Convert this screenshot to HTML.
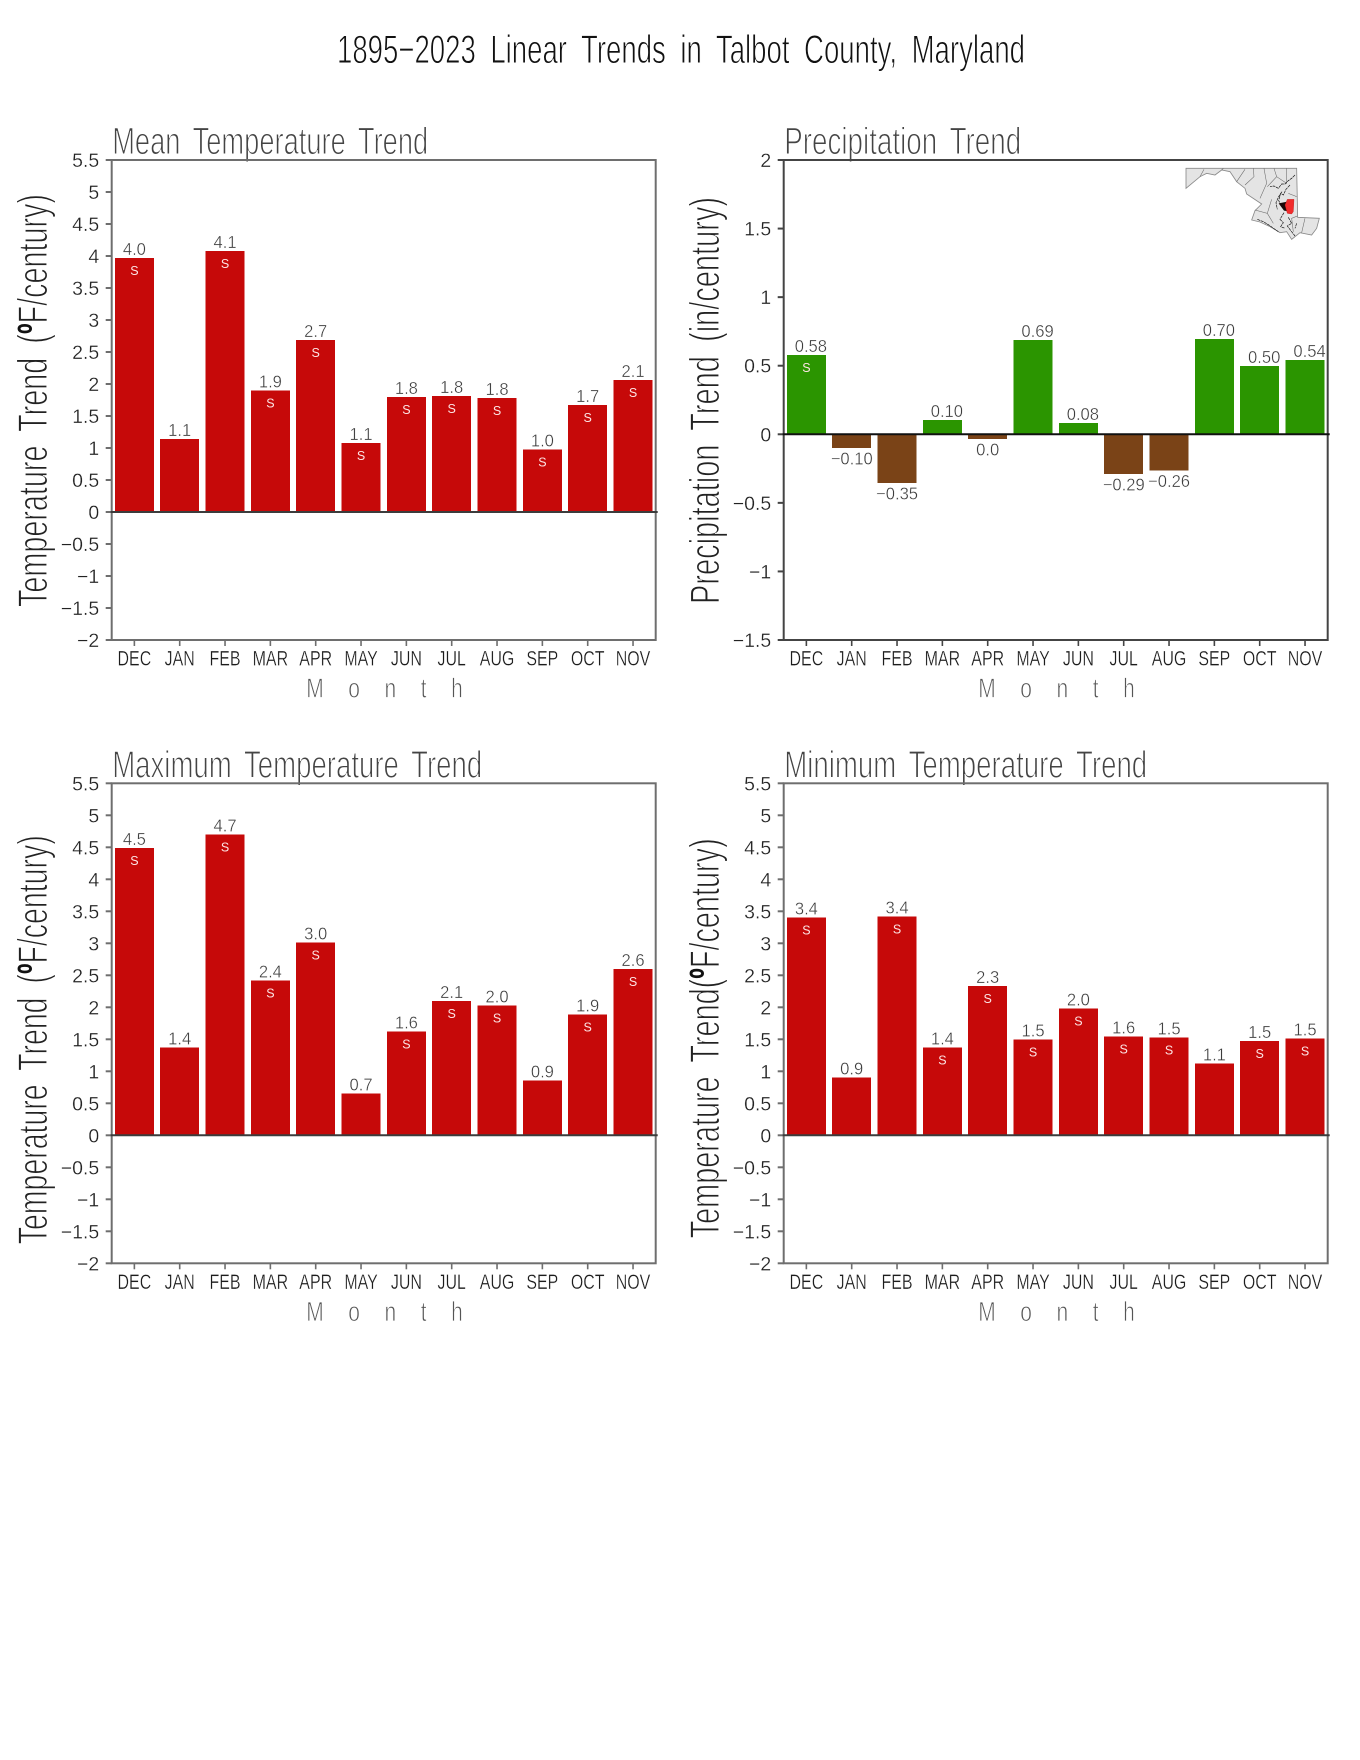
<!DOCTYPE html>
<html lang="en">
<head>
<meta charset="utf-8">
<title>1895-2023 Linear Trends in Talbot County, Maryland</title>
<style>
html,body{margin:0;padding:0;background:#fff;}
#chart{display:block;width:1360px;height:1760px;font-family:"Liberation Sans",sans-serif;}
</style>
</head>
<body>
<svg id="chart" xmlns="http://www.w3.org/2000/svg" width="1360" height="1760" viewBox="0 0 1360 1760">
  <rect x="0" y="0" width="1360" height="1760" fill="#fff"/>
  <text x="337" y="63" font-size="40" fill="#111" stroke="#fff" stroke-width="0.9" textLength="688" lengthAdjust="spacingAndGlyphs" word-spacing="10">1895−2023 Linear Trends in Talbot County, Maryland</text>
  <g id="panels"></g>
  <g transform="translate(1180,160) scale(0.3333)">
    <path d="M18,25 L350,25 L353,172 L418,175 L410,205 L395,225 L360,218 L335,238 L320,215 L300,218 L270,200 L240,186 L215,180 L225,152 L245,132 L200,102 L195,85 L170,65 L150,35 L125,30 L105,45 L80,40 L60,50 L18,85 Z" fill="#e4e4e4" stroke="#8a8a8a" stroke-width="2.5"/>
    <path d="M60,50 L72,28 M125,30 L130,25 M170,65 L195,28 M195,75 L222,50 L220,25 M240,115 L260,70 L252,25 M262,80 L290,50 L282,25 M290,50 L320,70 L320,25 M225,150 L262,160 L280,190 M262,160 L275,118 M350,110 L325,100 M352,168 L335,175 L340,215 M375,175 L365,218" fill="none" stroke="#666" stroke-width="1.6"/>
    <path d="M345,45 L335,55 L325,62 L315,72 L305,72 L295,85 L282,78 L270,80 M330,75 L318,88 L310,105 L302,100 L296,122 L304,135 M306,95 L296,110 L288,128 L292,148 M312,158 L300,178 L310,188 L302,200 L315,205 M325,172 L335,190 L322,198 L335,215 L345,228 M350,190 L345,205 M232,178 L250,185 L268,196 L295,215" fill="none" stroke="#111" stroke-width="2" stroke-dasharray="9 2"/>
    <path d="M296,130 L322,125 L332,155 L312,152 Z" fill="#1a0808"/>
    <path d="M322,118 L342,118 L340,155 L335,162 L322,160 L315,135 Z" fill="#f22c2c" stroke="#b01010" stroke-width="1"/>
  </g>
</svg>
<script>
var months = ['DEC','JAN','FEB','MAR','APR','MAY','JUN','JUL','AUG','SEP','OCT','NOV'];
var tempTicks = [5.5,5,4.5,4,3.5,3,2.5,2,1.5,1,0.5,0,-0.5,-1,-1.5,-2];
var precipTicks = [2,1.5,1,0.5,0,-0.5,-1,-1.5];

var meanValues = [3.97,1.14,4.08,1.90,2.685,1.077,1.80,1.81,1.78,0.98,1.67,2.06];
var meanLabels = ['4.0','1.1','4.1','1.9','2.7','1.1','1.8','1.8','1.8','1.0','1.7','2.1'];
var meanSig = [1,0,1,1,1,1,1,1,1,1,1,1];

var precipValues = [0.578,-0.10,-0.357,0.103,-0.036,0.687,0.081,-0.29,-0.263,0.693,0.497,0.542];
var precipLabels = ['0.58','−0.10','−0.35','0.10','0.0','0.69','0.08','−0.29','−0.26','0.70','0.50','0.54'];
var precipSig = [1,0,0,0,0,0,0,0,0,0,0,0];

var maxValues = [4.49,1.37,4.70,2.42,3.01,0.654,1.62,2.10,2.03,0.858,1.89,2.60];
var maxLabels = ['4.5','1.4','4.7','2.4','3.0','0.7','1.6','2.1','2.0','0.9','1.9','2.6'];
var maxSig = [1,0,1,1,1,0,1,1,1,0,1,1];

var minValues = [3.40,0.907,3.42,1.37,2.33,1.50,1.98,1.54,1.53,1.12,1.47,1.51];
var minLabels = ['3.4','0.9','3.4','1.4','2.3','1.5','2.0','1.6','1.5','1.1','1.5','1.5'];
var minSig = [1,0,1,1,1,1,1,1,1,0,1,1];

var SVG_NS = 'http://www.w3.org/2000/svg';
var PLOT_W = 544, PLOT_H = 480, BAR_W = 39;
var root = document.getElementById('panels');

function make(parent, tag, attrs) {
  var el = document.createElementNS(SVG_NS, tag);
  for (var k in attrs) { el.setAttribute(k, attrs[k]); }
  parent.appendChild(el);
  return el;
}

function drawPanel(p) {
  var left = p.left, top = p.top;
  var yMax = p.ticks[0], yMin = p.ticks[p.ticks.length - 1];
  function xScale(i) { return left + (i + 0.5) * PLOT_W / months.length; }
  function yScale(v) { return top + (yMax - v) * PLOT_H / (yMax - yMin); }

  var g = make(root, 'g', {});
  
  

  var sub = make(g, 'text', {x: left + 0.5, y: top - 6, 'font-size': 38, fill: '#444', stroke: '#fff', 'stroke-width': 1.1, textLength: p.subWidth, lengthAdjust: 'spacingAndGlyphs', 'word-spacing': 7});
  
  
  sub.textContent = p.subtitle;

  var yTitle = make(g, 'text', {transform: 'translate(' + (left - 64.5) + ',' + (top + p.yTitleBottom) + ') rotate(-90)', 'font-size': 42, fill: '#222', stroke: '#fff', 'stroke-width': 1.1, textLength: p.yTitleLen, lengthAdjust: 'spacingAndGlyphs', 'word-spacing': 9});
  
  
  yTitle.textContent = p.yTitleStart;
  var deg = make(yTitle, 'tspan', {'font-weight': 'bold', fill: '#111', stroke: 'none'});
  
  
  deg.textContent = p.yTitleMark;
  var tail = make(yTitle, 'tspan', {});
  
  
  tail.textContent = p.yTitleEnd;

  months.forEach(function (m, i) {
    var v = p.values[i];
    var y0 = yScale(0), yv = yScale(v);
    var cx = xScale(i);

    var lblY = v >= 0 ? yv - 3 : yv + 16.5;
    var lblX = (v >= 0 && p.labels[i].length === 4) ? cx + 4.5 : cx;
    var lbl = make(g, 'text', {transform: 'translate(' + lblX + ',' + lblY + ') scale(0.95,1)', 'font-size': 17.5, 'text-anchor': 'middle', fill: '#3c3c3c', stroke: '#fff', 'stroke-width': 0.35});
    
    
    lbl.textContent = p.labels[i];
  });

  months.forEach(function (m, i) {
    var v = p.values[i];
    var y0 = yScale(0), yv = yScale(v);
    var cx = xScale(i);

    var bar = make(g, 'rect', {x: cx - BAR_W / 2, y: Math.min(yv, y0), width: BAR_W, height: Math.abs(y0 - yv), fill: v >= 0 ? p.posColor : p.negColor, 'shape-rendering': 'crispEdges'});
    
    

    if (p.sig[i]) {
      var s = make(g, 'text', {x: cx, y: yv + 17, 'font-size': 12.5, 'text-anchor': 'middle', fill: '#fde4e4'});
      
      
      s.textContent = 'S';
    }

    var xt = make(g, 'line', {x1: cx, x2: cx, y1: top + PLOT_H, y2: top + PLOT_H + 6, stroke: p.frame, 'stroke-width': 1.6});
    
    

    var xl = make(g, 'text', {transform: 'translate(' + cx + ',' + (top + PLOT_H + 25.5) + ') scale(0.76,1)', 'font-size': 21, 'text-anchor': 'middle', fill: '#1c1c1c', stroke: '#fff', 'stroke-width': 0.3});
    
    
    xl.textContent = m;
  });

  p.ticks.forEach(function (t) {
    var y = yScale(t);
    var tick = make(g, 'line', {x1: left - 6, x2: left, y1: y, y2: y, stroke: p.frame, 'stroke-width': 2});
    
    

    var tl = make(g, 'text', {x: left - 12.5, y: y + 7, 'font-size': 19.5, 'text-anchor': 'end', fill: '#222', stroke: '#fff', 'stroke-width': 0.25});
    
    
    tl.textContent = String(t).replace('-', '−');
  });

  var frame = make(g, 'rect', {x: left, y: top, width: PLOT_W, height: PLOT_H, fill: 'none', stroke: p.frame, 'stroke-width': 2});
  
  

  var zero = make(g, 'line', {x1: left - 1, x2: left + PLOT_W + 2, y1: yScale(0), y2: yScale(0), stroke: p.zero, 'stroke-width': 2});
  
  

  var xTitle = make(g, 'text', {transform: 'translate(' + (left + 194.5) + ',' + (top + PLOT_H + 57.5) + ') scale(0.75,1)', 'font-size': 28, fill: '#555', stroke: '#fff', 'stroke-width': 0.8, 'word-spacing': 25});
  
  
  xTitle.textContent = 'M o n t h';
}

drawPanel({name: 'mean-temperature-panel', left: 111.7, top: 160, ticks: tempTicks, values: meanValues, labels: meanLabels, sig: meanSig, posColor: '#c60909', negColor: '#7a4317', frame: '#6e6e6e', zero: '#3c3c3c', subtitle: 'Mean Temperature Trend', subWidth: 316, yTitleStart: 'Temperature Trend (', yTitleMark: 'º', yTitleEnd: 'F/century)', yTitleBottom: 447, yTitleLen: 413});
drawPanel({name: 'precipitation-panel', left: 783.7, top: 160, ticks: precipTicks, values: precipValues, labels: precipLabels, sig: precipSig, posColor: '#2b9500', negColor: '#7a4317', frame: '#444', zero: '#111', subtitle: 'Precipitation Trend', subWidth: 237, yTitleStart: 'Precipitation Trend (in/century)', yTitleMark: '', yTitleEnd: '', yTitleBottom: 444, yTitleLen: 407});
drawPanel({name: 'maximum-temperature-panel', left: 111.7, top: 783.3, ticks: tempTicks, values: maxValues, labels: maxLabels, sig: maxSig, posColor: '#c60909', negColor: '#7a4317', frame: '#6e6e6e', zero: '#3c3c3c', subtitle: 'Maximum Temperature Trend', subWidth: 370, yTitleStart: 'Temperature Trend (', yTitleMark: 'º', yTitleEnd: 'F/century)', yTitleBottom: 461, yTitleLen: 409});
drawPanel({name: 'minimum-temperature-panel', left: 783.7, top: 783.3, ticks: tempTicks, values: minValues, labels: minLabels, sig: minSig, posColor: '#c60909', negColor: '#7a4317', frame: '#6e6e6e', zero: '#3c3c3c', subtitle: 'Minimum Temperature Trend', subWidth: 363, yTitleStart: 'Temperature Trend(', yTitleMark: 'º', yTitleEnd: 'F/century)', yTitleBottom: 455, yTitleLen: 400});
</script>
</body>
</html>
